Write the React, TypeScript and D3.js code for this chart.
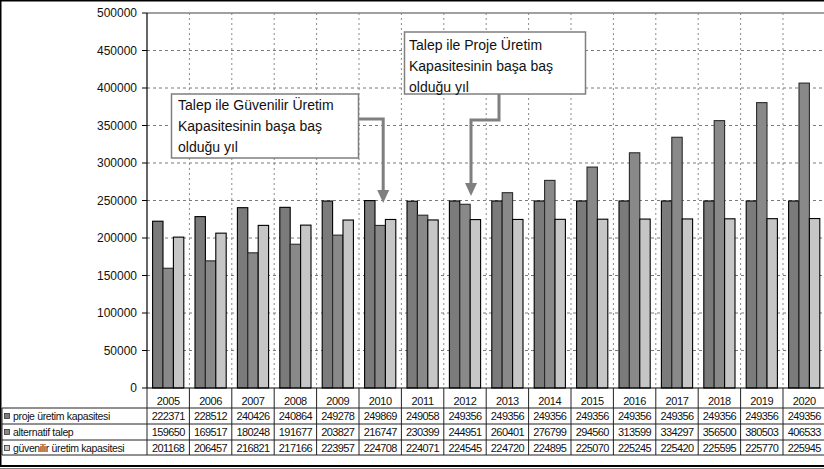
import React from "react";
import * as d3 from "d3";

const years = ["2005","2006","2007","2008","2009","2010","2011","2012","2013","2014","2015","2016","2017","2018","2019","2020"];
const projeUretim = [222371,228512,240426,240864,249278,249869,249058,249356,249356,249356,249356,249356,249356,249356,249356,249356];
const alternatifTalep = [159650,169517,180248,191677,203827,216747,230399,244951,260401,276799,294560,313599,334297,356500,380503,406533];
const guvenilirUretim = [201168,206457,216821,217166,223957,224708,224071,224545,224720,224895,225070,225245,225420,225595,225770,225945];
const seriesNames = ["proje üretim kapasitesi","alternatif talep","güvenilir üretim kapasitesi"];
const yTicks = [0,50000,100000,150000,200000,250000,300000,350000,400000,450000,500000];
const note1 = ["Talep ile Güvenilir Üretim","Kapasitesinin başa baş","olduğu yıl"];
const note2 = ["Talep ile Proje Üretim","Kapasitesinin başa baş","olduğu yıl"];

const W = 824, H = 469;
const FONT = "Arial, 'Liberation Sans', sans-serif";

export default function App() {
  const left = 147, top = 13, bottom = 388;
  const band = 42.4;
  const x = d3.scaleBand<string>().domain(years).range([left, left + band * years.length]).padding(0);
  const y = d3.scaleLinear().domain([0, 500000]).range([bottom, top]);
  const sub = d3.scaleBand<string>().domain(seriesNames).range([5.6, band - 5.6]).padding(0);
  const allSeries = [projeUretim, alternatifTalep, guvenilirUretim];
  const fills = ["#7b7b7b", "#898989", "#c6c6c6"];
  const strokes = ["#000", "#2a2a2a", "#000"];
  const right = left + band * years.length;
  const rowY = [408, 424, 440, 455];

  const bx = (yr: string) => (x(yr) as number);

  // annotation anchors
  const a1x = bx("2010") + band / 2 + 3;
  const a2x = bx("2012") + band / 2 + 6;

  return (
    <div style={{ position: "absolute", left: 0, top: 0, width: W, height: H, background: "#fff" }}>
      <svg width={W} height={H} style={{ display: "block" }} fontFamily={FONT}>
        <rect x={0} y={0} width={W} height={H} fill="#fff" />
        {/* gridlines */}
        {yTicks.filter(t => t > 0 && t < 500000).map(t => (
          <line key={"h" + t} x1={left} x2={right} y1={y(t)} y2={y(t)} stroke="#7a7a7a" strokeWidth={1} strokeDasharray="3,3" />
        ))}
        {years.slice(1).map(yr => (
          <line key={"v" + yr} x1={bx(yr)} x2={bx(yr)} y1={top} y2={bottom} stroke="#8a8a8a" strokeWidth={1} strokeDasharray="2,3" />
        ))}
        {/* plot top border */}
        <line x1={left} x2={W} y1={top} y2={top} stroke="#808080" strokeWidth={1.5} />
        {/* bars */}
        {years.map((yr, i) => (
          <g key={yr}>
            {allSeries.map((s, k) => {
              const xx = bx(yr) + (sub(seriesNames[k]) as number);
              return (
                <rect key={k} x={xx} y={y(s[i])} width={sub.bandwidth()} height={bottom - y(s[i])}
                  fill={fills[k]} stroke={strokes[k]} strokeWidth={1.1} />
              );
            })}
          </g>
        ))}
        {/* y axis */}
        <line x1={left} x2={left} y1={top} y2={bottom} stroke="#000" strokeWidth={1.2} />
        {yTicks.map(t => (
          <g key={"t" + t}>
            <line x1={left - 5} x2={left} y1={y(t)} y2={y(t)} stroke="#000" />
            <text x={137} y={y(t)} dy="0.35em" textAnchor="end" fontSize={12} fill="#111">{t}</text>
          </g>
        ))}
        {/* category axis line */}
        <line x1={left} x2={W} y1={bottom} y2={bottom} stroke="#000" strokeWidth={1.2} />
        {/* data table */}
        {[left, ...years.slice(1).map(bx)].map((xx, i) => (
          <line key={"tv" + i} x1={xx} x2={xx} y1={bottom} y2={rowY[3]} stroke="#222" strokeWidth={1} />
        ))}
        <line x1={2} x2={2} y1={rowY[0]} y2={rowY[3]} stroke="#222" strokeWidth={1} />
        {rowY.map((ry, i) => (
          <line key={"th" + i} x1={2} x2={W} y1={ry} y2={ry} stroke="#222" strokeWidth={1} />
        ))}
        {years.map(yr => (
          <text key={"yl" + yr} x={bx(yr) + band / 2} y={405} textAnchor="middle" fontSize={11} letterSpacing={-0.4} fill="#111">{yr}</text>
        ))}
        {allSeries.map((s, k) => (
          <g key={"row" + k}>
            <rect x={4.5} y={rowY[k] + 5.5} width={5} height={5} fill={fills[k]} stroke="#333" strokeWidth={0.8} />
            <text x={13} y={rowY[k] + 12} fontSize={10.5} letterSpacing={-0.35} fill="#111">{seriesNames[k]}</text>
            {s.map((v, i) => (
              <text key={i} x={bx(years[i]) + band / 2} y={rowY[k] + 12} textAnchor="middle" fontSize={11} letterSpacing={-0.6} fill="#111">{v}</text>
            ))}
          </g>
        ))}
        {/* annotations */}
        <g>
          <polyline points={`358,119 ${a1x},119 ${a1x},191`} fill="none" stroke="#7f7f7f" strokeWidth={3} />
          <polygon points={`${a1x - 6},190 ${a1x + 6},190 ${a1x},203`} fill="#7f7f7f" />
          <rect x={171.5} y={94} width={187} height={64} fill="#fff" stroke="#7f7f7f" strokeWidth={1.5} />
          {note1.map((t, i) => (
            <text key={i} x={178} y={110 + i * 21} fontSize={14} fill="#111">{t}</text>
          ))}
        </g>
        <g>
          <polyline points={`499,94 499,120 ${a2x},120 ${a2x},184`} fill="none" stroke="#7f7f7f" strokeWidth={3} />
          <polygon points={`${a2x - 6},183 ${a2x + 6},183 ${a2x},196`} fill="#7f7f7f" />
          <rect x={404.5} y={32} width={181} height={62} fill="#fff" stroke="#7f7f7f" strokeWidth={1.5} />
          {note2.map((t, i) => (
            <text key={i} x={409} y={49.5 + i * 21} fontSize={14} fill="#111">{t}</text>
          ))}
        </g>
        {/* outer frame */}
        <line x1={0} x2={W} y1={0.75} y2={0.75} stroke="#000" strokeWidth={1.5} />
        <line x1={0.75} x2={0.75} y1={0} y2={467} stroke="#000" strokeWidth={1.5} />
        <line x1={0} x2={W} y1={466} y2={466} stroke="#000" strokeWidth={2} />
        <line x1={0} x2={W} y1={469} y2={469} stroke="#000" strokeWidth={1} />
      </svg>
    </div>
  );
}
